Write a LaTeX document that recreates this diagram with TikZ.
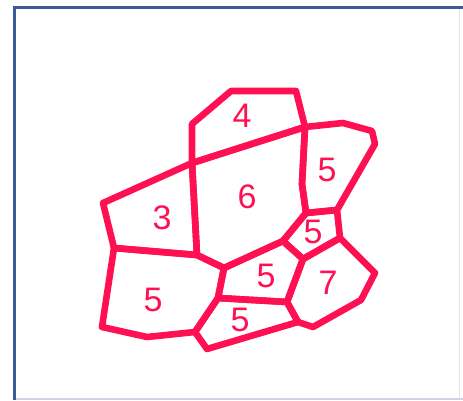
\documentclass[tikz,border=0pt]{standalone}
\usepackage{fontspec}
\setmainfont{Liberation Sans}
\usepackage{xcolor}
\definecolor{mapred}{RGB}{255,16,82}
\definecolor{frameblue}{RGB}{58,90,152}
\definecolor{framegray}{RGB}{205,212,226}

\tikzset{
  border/.style={line width=6.6pt, mapred, line join=round, line cap=round},
  count/.style={text=mapred, font=\fontsize{34}{34}\selectfont, inner sep=0pt}
}

\begin{document}
\begin{tikzpicture}[x=1pt, y=-1pt]

		\useasboundingbox (0,0) rectangle (463,400);

		% frame
		\draw[framegray, line width=1.5pt] (15,399) -- (463,399);
		\draw[framegray!60, line width=1pt] (459,9) -- (459,399);
		\draw[frameblue, line width=3pt] (14.5,400) -- (14.5,7.5) -- (463,7.5);

		% vertices
		\coordinate (A) at (231,91);
		\coordinate (B) at (296,91);
		\coordinate (C) at (305,127);
		\coordinate (D) at (192,124);
		\coordinate (E) at (192,163);
		\coordinate (F) at (103,203);
		\coordinate (G) at (343,123);
		\coordinate (H) at (372,131);
		\coordinate (I) at (375,144);
		\coordinate (J) at (337,210);
		\coordinate (K) at (306,213);
		\coordinate (L) at (302,184);
		\coordinate (M) at (340,238);
		\coordinate (N) at (303,259);
		\coordinate (O) at (283,241);
		\coordinate (P) at (375,273);
		\coordinate (Q) at (361,300);
		\coordinate (R) at (313,327);
		\coordinate (S) at (298,322);
		\coordinate (T) at (287,302);
		\coordinate (U) at (224,268);
		\coordinate (V) at (197,255);
		\coordinate (W) at (114,248);
		\coordinate (X) at (218,298);
		\coordinate (Y) at (195,332);
		\coordinate (Z) at (147,337);
		\coordinate (AA) at (102,327);
		\coordinate (BB) at (207,349);

		% regions
		\draw[border] (A) -- (B) -- (C) -- (E) -- (D) -- cycle;
		\draw[border] (E) -- (C) -- (L) -- (K) -- (O) -- (U) -- (V) -- cycle;
		\draw[border] (F) -- (E) -- (V) -- (W) -- cycle;
		\draw[border] (C) -- (G) -- (H) -- (I) -- (J) -- (K) -- (L) -- cycle;
		\draw[border] (K) -- (J) -- (M) -- (N) -- (O) -- cycle;
		\draw[border] (M) -- (P) -- (Q) -- (R) -- (S) -- (T) -- (N) -- cycle;
		\draw[border] (O) -- (N) -- (T) -- (X) -- (U) -- cycle;
		\draw[border] (W) -- (V) -- (U) -- (X) -- (Y) -- (Z) -- (AA) -- cycle;
		\draw[border] (X) -- (T) -- (S) -- (BB) -- (Y) -- cycle;

		% counts
		\node[count] (n4) at (242,116) {4};
		\node[count] (n6) at (247,197) {6};
		\node[count] (n3) at (162,218) {3};
		\node[count] (n5ur) at (327,170) {5};
		\node[count] (n5s) at (313,232) {5};
		\node[count] (n5m) at (266,276) {5};
		\node[count] (n7) at (328,283) {7};
		\node[count] (n5ll) at (153,300) {5};
		\node[count] (n5b) at (240,320) {5};

\end{tikzpicture}
\end{document}
